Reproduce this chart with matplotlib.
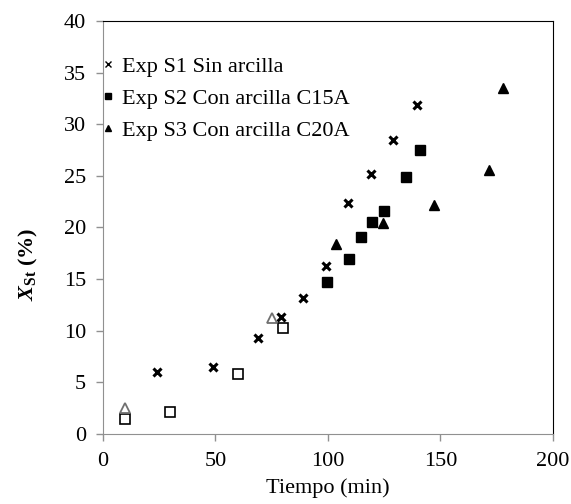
import matplotlib
matplotlib.use("Agg")
import matplotlib.pyplot as plt
from matplotlib.lines import Line2D

plt.rcParams['font.family'] = ['Liberation Serif', 'DejaVu Serif']
plt.rcParams['mathtext.fontset'] = 'custom'
plt.rcParams['mathtext.it'] = 'Liberation Serif:italic:bold'
plt.rcParams['mathtext.rm'] = 'Liberation Serif:bold'

# Data
s1_t = [24, 49, 69, 79, 89, 99, 109, 119, 129, 139.5]
s1_x = [6.0, 6.5, 9.3, 11.3, 13.2, 16.3, 22.4, 25.2, 28.5, 31.9]
s2_t = [99.5, 109.5, 114.8, 119.7, 124.8, 134.7, 141]
s2_x = [14.7, 16.9, 19.1, 20.5, 21.6, 24.9, 27.5]
s3_t = [103.5, 124.4, 147.2, 171.4, 177.7]
s3_x = [18.4, 20.4, 22.2, 25.6, 33.5]
s2_open_t = [10, 30, 60, 80]
s2_open_x = [1.4, 2.1, 5.8, 10.3]
s3_open_t = [10, 75]
s3_open_x = [2.5, 11.2]

labels = ['Exp S1 Sin arcilla', 'Exp S2 Con arcilla C15A', 'Exp S3 Con arcilla C20A']
xticks = [0, 50, 100, 150, 200]
yticks = [0, 5, 10, 15, 20, 25, 30, 35, 40]

fig = plt.figure(figsize=(5.71, 5.04), dpi=100)
ax = fig.add_axes([0.18, 0.139, 0.7885, 0.8194])

ax.plot(s1_t, s1_x, 'x', color='black', ms=6, mew=2.2, ls='none')
ax.plot(s2_t, s2_x, 's', color='black', ms=7.5, ls='none')
ax.plot(s3_t, s3_x, '^', color='black', ms=7.5, ls='none')
ax.plot(s2_open_t, s2_open_x, 's', mfc='white', mec='black', mew=1.2, ms=6.5, ls='none')
ax.plot(s3_open_t, s3_open_x, '^', mfc='white', mec='#707070', mew=1.3, ms=6.5, ls='none')

ax.set_xlim(0, 200)
ax.set_ylim(0, 40)
ax.set_xticks(xticks)
ax.set_yticks(yticks)
ax.tick_params(axis='both', labelsize=16, color='#909090', length=5, width=1)
ax.tick_params(axis='x', pad=8)
ax.tick_params(axis='y', pad=7)

for s in ['left', 'bottom']:
    ax.spines[s].set_color('#909090')
for s in ['top', 'right']:
    ax.spines[s].set_color('black')

ax.set_xlabel('Tiempo (min)', fontsize=16, labelpad=5)
ax.set_ylabel(r'$X_{\mathrm{St}}$ (%)', fontsize=16, fontweight='bold')
ax.yaxis.set_label_coords(-0.14, 0.41)

handles = [
    Line2D([], [], marker='x', color='black', ms=5, mew=1.0, ls='none'),
    Line2D([], [], marker='s', color='black', ms=5, ls='none'),
    Line2D([], [], marker='^', color='black', ms=5, ls='none'),
]
leg = ax.legend(handles, labels, loc='upper left', bbox_to_anchor=(-0.02, 0.935), frameon=False,
                fontsize=16, handlelength=0.5, handletextpad=0.35, labelspacing=0.5,
                borderaxespad=0)

fig.savefig('out.png', dpi=100)
